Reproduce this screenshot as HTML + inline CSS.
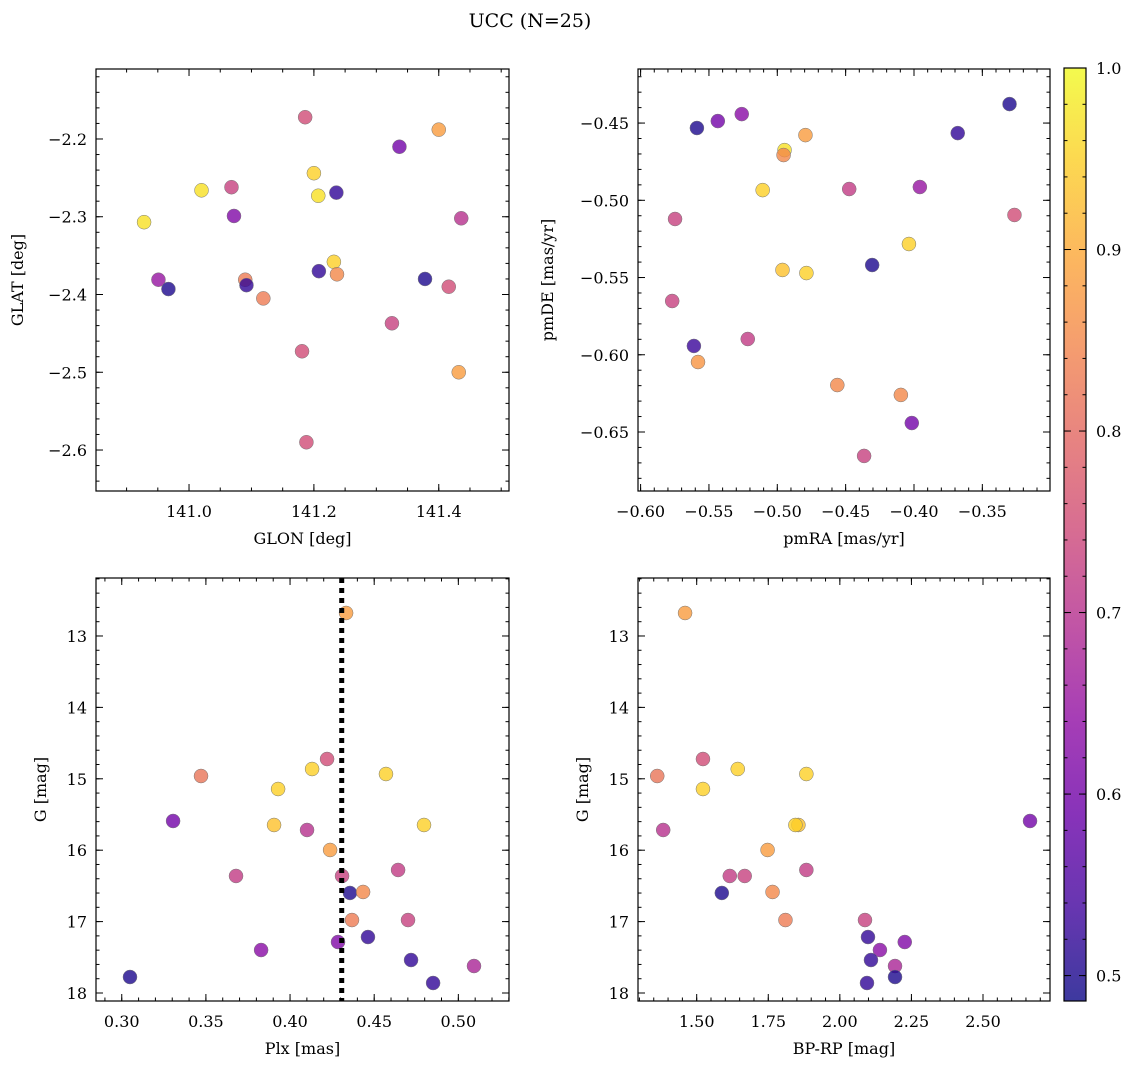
<!DOCTYPE html>
<html><head><meta charset="utf-8">
<style>
body{margin:0;background:#fff;}
svg{display:block;font-family:"DejaVu Serif","Liberation Serif",serif;}
</style></head>
<body>
<svg id="fig" width="1136" height="1068" viewBox="0 0 1136 1068" xmlns="http://www.w3.org/2000/svg">
<defs>
<linearGradient id="plasma" x1="0" y1="1" x2="0" y2="0">
<stop offset="0" stop-color="#0d0887"/><stop offset="0.1" stop-color="#41049d"/><stop offset="0.2" stop-color="#6a00a8"/><stop offset="0.3" stop-color="#8f0da4"/><stop offset="0.4" stop-color="#b12a90"/><stop offset="0.5" stop-color="#cc4778"/><stop offset="0.6" stop-color="#e16462"/><stop offset="0.7" stop-color="#f2844b"/><stop offset="0.8" stop-color="#fca636"/><stop offset="0.9" stop-color="#fcce25"/><stop offset="1" stop-color="#f0f921"/>
</linearGradient>
</defs>
<text x="530" y="27" text-anchor="middle" font-size="19">UCC (N=25)</text>
</svg>
<script>
// ---- data ----
const glon=[141.186,141.400,141.337,141.200,141.020,141.068,141.207,141.236,141.072,141.436,140.928,141.232,141.208,141.237,140.951,141.090,141.378,140.967,141.092,141.119,141.416,141.325,141.181,141.432,141.188];
const glat=[-2.172,-2.188,-2.210,-2.244,-2.266,-2.262,-2.273,-2.269,-2.299,-2.302,-2.307,-2.358,-2.370,-2.374,-2.381,-2.381,-2.380,-2.393,-2.388,-2.405,-2.390,-2.437,-2.473,-2.500,-2.590];
const prob1=[0.75,0.88,0.6,0.95,0.97,0.73,0.97,0.52,0.62,0.7,0.97,0.95,0.52,0.85,0.65,0.83,0.5,0.5,0.52,0.83,0.75,0.73,0.75,0.88,0.75];
const pmra=[-0.3301,-0.5588,-0.5435,-0.526,-0.4794,-0.4947,-0.4954,-0.368,-0.5107,-0.4474,-0.3957,-0.3265,-0.5748,-0.4037,-0.4962,-0.4787,-0.4306,-0.5769,-0.561,-0.5216,-0.558,-0.4561,-0.4096,-0.4016,-0.4365];
const pmde=[-0.4377,-0.4532,-0.4487,-0.4442,-0.4578,-0.4675,-0.4707,-0.4565,-0.4934,-0.4927,-0.4914,-0.5095,-0.5121,-0.5283,-0.5451,-0.5471,-0.5419,-0.5652,-0.5943,-0.5898,-0.6047,-0.6196,-0.626,-0.6442,-0.6655];
const prob2=[0.5,0.5,0.6,0.63,0.88,0.97,0.85,0.52,0.95,0.72,0.65,0.75,0.73,0.95,0.93,0.95,0.5,0.73,0.53,0.72,0.87,0.85,0.85,0.6,0.73];
const plx=[0.4333,0.4220,0.3471,0.4131,0.4570,0.3929,0.3305,0.3905,0.4101,0.4796,0.4238,0.3679,0.4642,0.4309,0.4356,0.4434,0.4368,0.4701,0.4285,0.4463,0.3828,0.4719,0.5093,0.3049,0.4850];
const gmag=[12.678,14.723,14.961,14.863,14.933,15.143,15.591,15.647,15.717,15.647,15.997,16.361,16.277,16.361,16.599,16.585,16.978,16.978,17.286,17.216,17.398,17.538,17.622,17.776,17.860];
const prob3=[0.88,0.75,0.82,0.95,0.95,0.95,0.6,0.93,0.7,0.95,0.88,0.72,0.72,0.73,0.5,0.85,0.83,0.73,0.62,0.52,0.63,0.52,0.68,0.5,0.52];
const bprp=[1.4594,1.5219,1.3622,1.6434,1.883,1.5219,2.6642,1.8552,1.383,1.8448,1.7476,1.6156,1.883,1.6677,1.5878,1.7649,1.81,2.0878,2.2267,2.0983,2.14,2.1087,2.1927,2.1927,2.0948];
const plxLine=0.4307;
const cbTicks=[0.5,0.6,0.7,0.8,0.9,1.0];
const VMIN=0.486, VMAX=1.0;

const NS="http://www.w3.org/2000/svg";
const svg=document.getElementById('fig');
function mk(tag,attrs,parent){const e=document.createElementNS(NS,tag);for(const k in attrs)e.setAttribute(k,attrs[k]);(parent||svg).appendChild(e);return e;}
const stops=[[0,13,8,135],[0.1,65,4,157],[0.2,106,0,168],[0.3,143,13,164],[0.4,177,42,144],[0.5,204,71,120],[0.6,225,100,98],[0.7,242,132,75],[0.8,252,166,54],[0.9,252,206,37],[1,240,249,33]];
function cmap(v){let t=(v-VMIN)/(VMAX-VMIN);t=Math.max(0,Math.min(1,t));for(let i=1;i<stops.length;i++){if(t<=stops[i][0]){const a=stops[i-1],b=stops[i];const f=(t-a[0])/(b[0]-a[0]);return `rgb(${Math.round(a[1]+f*(b[1]-a[1]))},${Math.round(a[2]+f*(b[2]-a[2]))},${Math.round(a[3]+f*(b[3]-a[3]))})`;}}return 'rgb(240,249,33)';}
function fmt(v,d){const s=v.toFixed(d);return s.replace('-','\u2212');}

function panel(cfg){
  const g=mk('g',{});
  
  
  const {x0,x1,y0,y1}=cfg;
  const sx=v=>x0+(v-cfg.xmin)/(cfg.xmax-cfg.xmin)*(x1-x0);
  const sy=cfg.yinv? (v=>y0+(v-cfg.ymin)/(cfg.ymax-cfg.ymin)*(y1-y0)) : (v=>y1-(v-cfg.ymin)/(cfg.ymax-cfg.ymin)*(y1-y0));
  const pts=mk('g',{},g);
  
  
  for(let i=0;i<cfg.xs.length;i++){
    const c=mk('circle',{cx:sx(cfg.xs[i]),cy:sy(cfg.ys[i]),r:7,fill:cmap(cfg.cs[i]),'fill-opacity':0.8,stroke:'#777','stroke-width':0.5},pts);
    
    
  }
  if(cfg.vline!==undefined){
    const l=mk('line',{x1:sx(cfg.vline),x2:sx(cfg.vline),y1:y0,y2:y1,stroke:'#000','stroke-width':5,'stroke-dasharray':'5,5'},g);
    
    
  }
  const tk=mk('g',{stroke:'#000','stroke-width':1},g);
  const eps=1e-9;
  function ticksX(step){const a=Math.ceil(cfg.xmin/step-eps);const out=[];for(let k=a;k*step<=cfg.xmax+eps;k++)out.push(k*step);return out;}
  function ticksY(step){const lo=Math.min(cfg.ymin,cfg.ymax),hi=Math.max(cfg.ymin,cfg.ymax);const a=Math.ceil(lo/step-eps);const out=[];for(let k=a;k*step<=hi+eps;k++)out.push(k*step);return out;}
  ticksX(cfg.xminor).forEach(v=>{const x=sx(v);mk('line',{x1:x,x2:x,y1:y1,y2:y1-3.5},tk);mk('line',{x1:x,x2:x,y1:y0,y2:y0+3.5},tk);});
  ticksY(cfg.yminor).forEach(v=>{const y=sy(v);mk('line',{x1:x0,x2:x0+3.5,y1:y,y2:y},tk);mk('line',{x1:x1,x2:x1-3.5,y1:y,y2:y},tk);});
  ticksX(cfg.xmajor).forEach(v=>{const x=sx(v);mk('line',{x1:x,x2:x,y1:y1,y2:y1-7},tk);mk('line',{x1:x,x2:x,y1:y0,y2:y0+7},tk);
    const t=mk('text',{x:x,y:y1+26,'text-anchor':'middle','font-size':16},g);t.textContent=fmt(v,cfg.xd);
    });
  ticksY(cfg.ymajor).forEach(v=>{const y=sy(v);mk('line',{x1:x0,x2:x0+7,y1:y,y2:y},tk);mk('line',{x1:x1,x2:x1-7,y1:y,y2:y},tk);
    const t=mk('text',{x:x0-9,y:y+6,'text-anchor':'end','font-size':16},g);t.textContent=fmt(v,cfg.yd);
    });
  const fr=mk('rect',{x:x0,y:y0,width:x1-x0,height:y1-y0,fill:'none',stroke:'#000','stroke-width':1.2},g);
  
  const xl=mk('text',{x:(x0+x1)/2,y:y1+53,'text-anchor':'middle','font-size':16},g);xl.textContent=cfg.xlabel;
  
  const yl=mk('text',{x:0,y:0,'text-anchor':'middle','font-size':16,transform:`translate(${cfg.ylx},${(y0+y1)/2}) rotate(-90)`},g);yl.textContent=cfg.ylabel;
  
}

panel({name:'glon-glat-panel',x0:96,x1:509,y0:69,y1:491,xmin:140.851,xmax:141.5125,ymin:-2.6527,ymax:-2.1100,xs:glon,ys:glat,cs:prob1,xmajor:0.2,xminor:0.05,ymajor:0.1,yminor:0.02,xd:1,yd:1,xlabel:'GLON [deg]',ylabel:'GLAT [deg]',ylx:23});
panel({name:'pm-panel',x0:638,x1:1050,y0:69,y1:491,xmin:-0.6019,xmax:-0.3005,ymin:-0.6882,ymax:-0.4150,xs:pmra,ys:pmde,cs:prob2,xmajor:0.05,xminor:0.01,ymajor:0.05,yminor:0.01,xd:2,yd:2,xlabel:'pmRA [mas/yr]',ylabel:'pmDE [mas/yr]',ylx:553});
panel({name:'plx-g-panel',x0:96,x1:509,y0:578,y1:1001,xmin:0.2847,xmax:0.5301,ymin:12.188,ymax:18.112,yinv:true,xs:plx,ys:gmag,cs:prob3,vline:plxLine,xmajor:0.05,xminor:0.01,ymajor:1,yminor:0.2,xd:2,yd:0,xlabel:'Plx [mas]',ylabel:'G [mag]',ylx:46});
panel({name:'cmd-panel',x0:638,x1:1050,y0:578,y1:1001,xmin:1.295,xmax:2.734,ymin:12.188,ymax:18.112,yinv:true,xs:bprp,ys:gmag,cs:prob3,xmajor:0.25,xminor:0.05,ymajor:1,yminor:0.2,xd:2,yd:0,xlabel:'BP-RP [mag]',ylabel:'G [mag]',ylx:588});

const cb=mk('g',{});


const cbx0=1064,cbx1=1086,cby0=68,cby1=1001;
const cy=v=>cby1-(v-VMIN)/(VMAX-VMIN)*(cby1-cby0);
mk('rect',{x:cbx0,y:cby0,width:cbx1-cbx0,height:cby1-cby0,fill:'url(#plasma)','fill-opacity':0.8},cb);
for(let k=Math.ceil(VMIN/0.02);k*0.02<=VMAX+1e-9;k++){const y=cy(k*0.02);mk('line',{x1:cbx1,x2:cbx1-3.5,y1:y,y2:y,stroke:'#000'},cb);mk('line',{x1:cbx0,x2:cbx0+3.5,y1:y,y2:y,stroke:'#000'},cb);}
cbTicks.forEach(v=>{const y=cy(v);mk('line',{x1:cbx1,x2:cbx1-7,y1:y,y2:y,stroke:'#000'},cb);mk('line',{x1:cbx0,x2:cbx0+7,y1:y,y2:y,stroke:'#000'},cb);
  const t=mk('text',{x:cbx1+10,y:y+6,'font-size':16},cb);t.textContent=v.toFixed(1);
  });
mk('rect',{x:cbx0,y:cby0,width:cbx1-cbx0,height:cby1-cby0,fill:'none',stroke:'#000','stroke-width':1.2},cb);
</script>
</body></html>
